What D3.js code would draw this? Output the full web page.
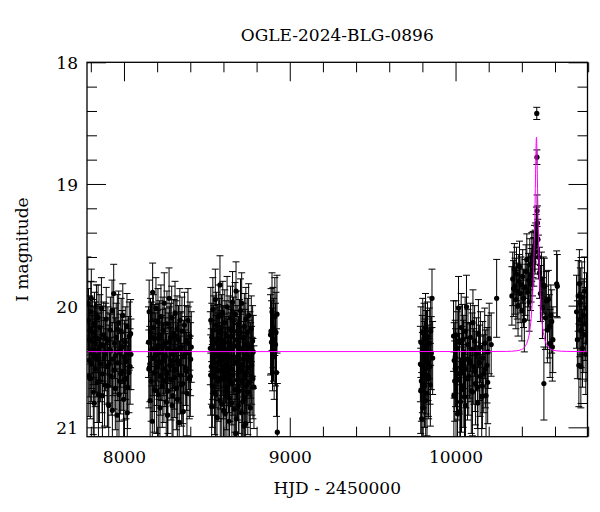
<!DOCTYPE html>
<html>
<head>
<meta charset="utf-8">
<script src="https://cdn.jsdelivr.net/npm/d3@7"></script>
<style>
body{margin:0;background:#fff;}
#chart text{font-family:'DejaVu Serif',serif;fill:#000;}
</style>
</head>
<body>
<div id="chart"></div>
<script>
// [HJD-2450000, I mag, error] per observing season
var season1 = [
    [7782,19.98,0.38],[7786,20.12,0.26],[7790,20.45,0.30],[7793,20.28,0.28],[7797,20.60,0.33],[7800,20.05,0.25],
    [7803,19.94,0.24],[7807,20.38,0.30],[7811,20.22,0.27],[7815,20.71,0.35],[7818,20.30,0.29],[7822,20.15,0.26],
    [7826,20.52,0.31],[7830,20.41,0.30],[7834,20.08,0.25],[7838,20.63,0.33],[7842,20.27,0.28],[7846,20.73,0.36],
    [7850,20.35,0.29],[7855,20.18,0.27],[7859,20.48,0.31],[7864,20.02,0.25],[7868,20.56,0.32],[7873,20.33,0.29],
    [7878,20.24,0.27],[7883,20.65,0.34],[7888,20.40,0.30],[7893,20.11,0.26],[7898,20.50,0.31],[7903,20.29,0.28],
    [7908,20.82,0.37],[7913,20.36,0.30],[7918,20.20,0.27],[7923,20.58,0.32],[7928,20.04,0.25],[7933,20.44,0.30],
    [7938,19.90,0.24],[7943,20.31,0.29],[7948,20.68,0.34],[7953,20.26,0.28],[7958,20.90,0.38],[7963,20.47,0.31],
    [7968,20.14,0.26],[7973,20.62,0.33],[7978,20.37,0.30],[7983,20.21,0.27],[7988,20.54,0.32],[7993,20.08,0.26],
    [7998,20.77,0.36],[8003,20.42,0.30],[8008,20.30,0.29],[8013,20.60,0.33],[8018,20.17,0.27],[8022,20.67,0.34],
    [8027,20.39,0.30],[8032,20.25,0.28],[8037,20.50,0.31],[8042,20.40,0.29],
    [7788,20.58,0.33],[7795,20.20,0.28],[7805,20.48,0.31],[7813,20.35,0.30],[7820,20.80,0.37],[7828,20.26,0.29],
    [7836,20.44,0.31],[7844,20.10,0.27],[7852,20.62,0.34],[7861,20.32,0.30],[7870,20.74,0.36],[7880,20.43,0.31],
    [7890,20.27,0.29],[7900,20.66,0.34],[7910,20.48,0.32],[7920,20.37,0.30],[7930,20.86,0.38],[7940,20.53,0.32],
    [7950,20.41,0.31],[7960,20.19,0.28],[7970,20.73,0.36],[7980,20.56,0.33],[7990,20.34,0.30],[8000,20.61,0.33],
    [8010,20.46,0.31],[8020,20.88,0.38],[8030,20.55,0.33],[8040,20.23,0.28]
];
var season2 = [
    [8148,20.30,0.29],[8152,20.05,0.26],[8156,20.48,0.31],[8160,20.22,0.28],[8164,20.62,0.33],[8168,20.36,0.30],
    [8171,20.95,0.38],[8173,19.89,0.24],[8177,20.18,0.27],[8181,20.55,0.32],[8185,20.27,0.28],[8189,20.41,0.30],
    [8193,20.02,0.25],[8197,20.70,0.35],[8201,20.33,0.29],[8205,20.13,0.27],[8207,20.73,0.35],[8211,20.46,0.31],
    [8215,20.24,0.28],[8219,20.58,0.32],[8223,20.09,0.26],[8227,20.38,0.30],[8231,20.66,0.34],[8235,20.20,0.27],
    [8239,20.44,0.30],[8243,19.98,0.25],[8247,20.52,0.31],[8251,20.31,0.29],[8255,20.79,0.36],[8259,20.15,0.27],
    [8263,20.90,0.37],[8267,20.35,0.29],[8272,19.94,0.25],[8276,20.49,0.31],[8280,20.26,0.28],[8284,20.61,0.33],
    [8288,20.10,0.26],[8292,20.40,0.30],[8296,20.74,0.35],[8300,20.23,0.28],[8304,20.53,0.32],[8308,20.06,0.26],
    [8312,20.37,0.30],[8316,20.68,0.34],[8320,20.19,0.27],[8324,20.45,0.31],[8329,20.28,0.28],[8333,20.96,0.38],
    [8337,20.12,0.26],[8341,20.57,0.32],[8345,20.34,0.29],[8350,20.21,0.28],[8355,20.64,0.33],[8360,20.42,0.30],
    [8365,20.16,0.27],[8370,20.51,0.31],[8375,20.29,0.29],[8380,20.72,0.35],[8386,20.12,0.26],[8390,20.39,0.30],
    [8394,20.60,0.33],[8398,20.25,0.28],[8402,20.44,0.30],[8406,20.34,0.29],
    [8150,20.52,0.32],[8158,20.78,0.36],[8166,20.26,0.29],[8175,20.43,0.31],[8183,20.69,0.35],[8191,20.36,0.30],
    [8199,20.50,0.32],[8209,20.27,0.29],[8217,20.84,0.37],[8225,20.47,0.31],[8233,20.33,0.30],[8241,20.62,0.34],
    [8249,20.41,0.31],[8257,20.56,0.33],[8265,20.70,0.35],[8274,20.30,0.29],[8282,20.45,0.31],[8290,20.82,0.37],
    [8298,20.38,0.30],[8306,20.59,0.33],[8314,20.25,0.29],[8322,20.77,0.36],[8331,20.48,0.32],[8339,20.36,0.30],
    [8348,20.65,0.34],[8358,20.87,0.38],[8368,20.40,0.31],[8378,20.54,0.32],[8388,20.31,0.30],[8400,20.58,0.33]
];
var season3 = [
    [8521,20.35,0.30],[8524,20.12,0.27],[8527,20.50,0.31],[8530,20.26,0.28],[8533,20.66,0.34],[8536,20.03,0.26],
    [8539,20.42,0.30],[8542,20.20,0.28],[8545,20.58,0.32],[8548,20.31,0.29],[8551,19.95,0.25],[8553,20.73,0.35],
    [8556,20.38,0.30],[8559,20.16,0.27],[8562,20.47,0.31],[8565,20.27,0.28],[8568,20.62,0.33],[8571,20.09,0.26],
    [8574,20.40,0.30],[8577,20.22,0.28],[8579,19.83,0.24],[8582,20.53,0.32],[8585,20.33,0.29],[8588,20.18,0.27],
    [8590,20.81,0.36],[8593,20.44,0.30],[8596,20.06,0.26],[8599,20.60,0.33],[8602,20.29,0.29],[8605,20.37,0.30],
    [8608,20.14,0.27],[8610,20.89,0.37],[8613,20.49,0.31],[8616,20.24,0.28],[8619,20.68,0.34],[8622,20.01,0.25],
    [8625,20.41,0.30],[8628,20.30,0.29],[8631,20.56,0.32],[8634,20.19,0.27],[8637,20.76,0.35],[8640,20.36,0.30],
    [8643,20.10,0.26],[8646,20.52,0.31],[8649,20.25,0.28],[8652,20.64,0.34],[8655,19.97,0.25],[8658,20.43,0.30],
    [8661,20.21,0.28],[8664,20.85,0.37],[8667,20.33,0.29],[8670,20.07,0.26],[8674,21.05,0.40],[8676,19.88,0.24],
    [8679,20.46,0.31],[8682,20.28,0.28],[8685,20.61,0.33],[8688,20.15,0.27],[8691,20.39,0.30],[8694,20.70,0.35],
    [8697,20.23,0.28],[8700,20.54,0.32],[8703,20.04,0.26],[8706,20.35,0.30],[8710,19.98,0.25],[8713,20.48,0.31],
    [8716,20.79,0.36],[8719,20.26,0.28],[8723,20.99,0.39],[8726,20.17,0.27],[8729,20.57,0.32],[8732,20.32,0.29],
    [8735,20.11,0.26],[8738,20.66,0.34],[8741,20.40,0.30],[8744,20.22,0.28],[8748,20.51,0.31],[8752,20.08,0.26],
    [8756,20.63,0.33],[8760,20.34,0.29],[8764,20.45,0.31],[8768,20.19,0.27],[8772,20.58,0.32],[8776,20.29,0.29],
    [8780,20.38,0.30],[8784,20.67,0.34],
    [8523,20.57,0.33],[8529,20.83,0.37],[8535,20.46,0.31],[8541,20.30,0.30],[8547,20.71,0.35],[8555,20.52,0.32],
    [8561,20.92,0.38],[8567,20.36,0.30],[8573,20.60,0.33],[8581,20.78,0.36],[8587,20.45,0.31],[8595,20.31,0.30],
    [8601,20.86,0.37],[8607,20.55,0.33],[8615,20.40,0.31],[8621,20.74,0.36],[8627,20.50,0.32],[8633,20.95,0.39],
    [8639,20.61,0.34],[8645,20.33,0.30],[8651,20.80,0.37],[8657,20.57,0.33],[8663,20.42,0.31],[8669,20.69,0.35],
    [8678,20.93,0.39],[8684,20.47,0.32],[8690,20.82,0.37],[8696,20.53,0.32],[8702,20.37,0.30],[8708,20.88,0.38],
    [8715,20.62,0.34],[8721,20.44,0.31],[8728,20.76,0.36],[8734,20.97,0.39],[8740,20.55,0.33],[8747,20.71,0.35],
    [8754,20.43,0.31],[8762,20.84,0.37],[8770,20.49,0.32],[8778,20.60,0.33]
];
var season4 = [
    [8884,20.24,0.33],[8887,20.21,0.35],[8890,20.30,0.34],[8893,20.05,0.32],[8896,20.36,0.34],[8899,20.18,0.33],
    [8902,20.28,0.34],[8906,20.42,0.35],[8910,20.09,0.32],[8914,20.32,0.34],[8917,20.22,0.33],[8920,20.55,0.36],
    [8923,20.07,0.32],[8925,21.04,0.40]
];
var season5 = [
    [9788,20.48,0.31],[9791,20.30,0.29],[9794,20.62,0.33],[9796,20.93,0.38],[9799,20.38,0.30],[9802,20.22,0.28],
    [9804,20.84,0.37],[9807,20.52,0.32],[9810,20.27,0.29],[9813,20.66,0.34],[9816,20.41,0.30],[9819,20.18,0.28],
    [9822,20.57,0.32],[9825,20.34,0.30],[9828,20.72,0.35],[9831,20.25,0.28],[9834,20.47,0.31],[9838,20.60,0.33],
    [9842,20.31,0.29],[9846,20.50,0.31],[9850,20.21,0.28],[9854,20.39,0.30],[9858,19.94,0.24],[9862,20.43,0.30],
    [9790,20.70,0.35],[9800,20.55,0.33],[9812,20.44,0.31],[9820,20.78,0.36],[9836,20.58,0.33],[9848,20.65,0.34]
];
var season6 = [
    [9988,20.25,0.29],[9992,20.45,0.31],[9995,20.62,0.33],[9998,20.42,0.30],[10002,20.24,0.28],[10006,20.55,0.32],
    [10010,20.35,0.30],[10014,20.61,0.33],[10018,20.02,0.26],[10022,20.30,0.29],[10026,20.87,0.37],[10030,20.79,0.36],
    [10034,20.18,0.28],[10038,20.48,0.31],[10042,20.28,0.29],[10046,20.66,0.34],[10050,20.38,0.30],[10054,20.75,0.35],
    [10058,20.21,0.28],[10062,20.52,0.32],[10066,20.01,0.26],[10070,20.44,0.30],[10075,20.32,0.29],[10080,20.58,0.32],
    [10085,20.45,0.31],[10090,20.26,0.28],[10095,20.70,0.35],[10100,20.36,0.30],[10105,20.14,0.27],[10110,20.50,0.31],
    [10115,20.29,0.29],[10120,20.64,0.34],[10126,20.40,0.30],[10132,20.67,0.34],[10138,20.23,0.28],[10144,20.47,0.31],
    [10150,20.34,0.29],[10158,20.75,0.35],[10164,20.43,0.30],[10170,20.56,0.32],[10176,20.31,0.29],[10184,20.74,0.35],
    [10190,20.49,0.31],[10196,20.38,0.30],[10203,20.27,0.29],[10215,20.32,0.26],[10248,19.94,0.32],
    [9990,20.74,0.36],[10000,20.51,0.32],[10012,20.89,0.38],[10024,20.56,0.33],[10036,20.69,0.35],[10048,20.43,0.31],
    [10060,20.82,0.37],[10072,20.60,0.34],[10088,20.47,0.32],[10102,20.71,0.36],[10118,20.54,0.33],[10135,20.80,0.37],
    [10148,20.58,0.33],[10162,20.66,0.35],[10180,20.52,0.32],[10194,20.63,0.34]
];
var season7 = [
    [10340,19.92,0.24],[10345,19.78,0.22],[10350,19.86,0.23],[10355,19.70,0.21],[10359,19.84,0.23],[10364,19.95,0.24],
    [10368,19.74,0.22],[10372,19.88,0.23],[10377,20.00,0.25],[10381,19.80,0.22],[10386,19.68,0.21],[10390,19.90,0.24],
    [10395,19.83,0.23],[10400,20.04,0.25],[10405,19.76,0.22],[10410,19.94,0.24],[10415,20.12,0.26],[10420,19.85,0.23],
    [10425,19.72,0.22],[10430,19.62,0.21],[10435,19.89,0.23],[10440,19.79,0.22],[10444,19.97,0.24],[10448,19.66,0.21],
    [10452,19.82,0.22],[10456,19.75,0.22],[10460,19.60,0.20],[10464,19.71,0.21],[10468,19.58,0.19],[10472,19.64,0.20],
    [10476,19.52,0.18],[10480,19.56,0.18],[10483,19.49,0.17],[10486,19.40,0.15],[10488,19.33,0.14],[10490,18.42,0.05],
    [10491,18.78,0.06],[10492,19.22,0.13],[10494,19.32,0.14],[10496,19.45,0.16],[10500,19.60,0.18],[10506,19.73,0.21],
    [10512,19.90,0.23],[10518,19.78,0.22],[10524,20.02,0.25],[10530,19.83,0.23],[10533,20.64,0.30],[10536,19.84,0.23],
    [10542,20.10,0.26],[10548,19.96,0.24],[10554,20.20,0.27],[10560,19.95,0.24],[10566,20.17,0.26],[10570,20.31,0.28],
    [10575,20.08,0.25],[10580,20.13,0.26],[10584,20.34,0.28],[10587,20.28,0.27],[10610,19.82,0.27],[10614,19.84,0.26]
];
var season8 = [
    [10730,20.05,0.30],[10735,20.28,0.32],[10740,19.92,0.29],[10744,20.49,0.34],[10747,19.82,0.28],[10750,20.12,0.30],
    [10753,19.98,0.29],[10756,20.50,0.34],[10759,20.20,0.31],[10762,19.93,0.29],[10766,20.35,0.32],[10770,20.08,0.30],
    [10774,20.24,0.31],[10778,19.88,0.28],[10782,20.15,0.30],[10786,20.40,0.33],[10790,20.02,0.29],[10794,20.30,0.32]
];

// model light curve (magenta)
var modelT = [7777, 10200, 10308, 10368, 10398, 10422, 10437, 10449, 10458, 10464, 10470, 10473, 10476, 10479, 10482,
    10485, 10488, 10491, 10494, 10497, 10500, 10503, 10506, 10512, 10518, 10527, 10539, 10554, 10578, 10608, 10668, 10796];
var modelMag = [20.378, 20.377, 20.376, 20.371, 20.360, 20.330, 20.280, 20.194, 20.070, 19.935, 19.735, 19.597, 19.427,
    19.220, 18.975, 18.732, 18.615, 18.732, 18.975, 19.220, 19.427, 19.597, 19.735, 19.935, 20.070, 20.194, 20.280,
    20.330, 20.360, 20.371, 20.376, 20.378];

var xDomain = [7777, 10796], yDomain = [18, 21.077];
var xMajor = [8000, 9000, 10000], yMajor = [18, 19, 20, 21];
var title = 'OGLE-2024-BLG-0896', xTitle = 'HJD - 2450000', yTitle = 'I magnitude';

(function(){ 'use strict';

    var width = 600,
        height = 512,
        plot = {left: 87, right: 587.5, top: 62.3, bottom: 436.7};

    var x = d3.scaleLinear().domain(xDomain).range([plot.left, plot.right]),
        y = d3.scaleLinear().domain(yDomain).range([plot.top, plot.bottom]);

    var xMinor = d3.range(7800, 10801, 200).filter(function(v){ return v % 1000; }),
        yMinor = d3.range(18.2, 21.05, 0.2).filter(function(v){ return Math.abs(v - Math.round(v)) > 0.01; });

    var svg = d3.select('#chart').append('svg')
        .attr('width', width).attr('height', height)
        .attr('viewBox', '0 0 '+width+' '+height);

    svg.append('clipPath').attr('id', 'clip')
        .append('rect')
            .attr('x', plot.left).attr('y', plot.top)
            .attr('width', plot.right - plot.left).attr('height', plot.bottom - plot.top);

    var data = d3.merge([season1, season2, season3, season4, season5, season6, season7, season8]);
    var workspace = svg.append('g').attr('clip-path', 'url(#clip)');

    // error bars + caps
    var cap = 3.5;
    var bars = workspace.append('g').attr('stroke', '#000').attr('stroke-width', 1).attr('fill', 'none');
    bars.selectAll('path').data(data).enter().append('path')
        .attr('d', function(d){
            var px = x(d[0]), y1 = y(d[1] - d[2]), y2 = y(d[1] + d[2]);
            return 'M'+px+','+y1+'V'+y2+
                'M'+(px-cap)+','+y1+'H'+(px+cap)+
                'M'+(px-cap)+','+y2+'H'+(px+cap);
        });

    workspace.append('g').selectAll('circle').data(data).enter().append('circle')
        .attr('cx', function(d){ return x(d[0]); })
        .attr('cy', function(d){ return y(d[1]); })
        .attr('r', 2.6)
        .attr('fill', '#000');

    var line = d3.line()
        .x(function(d, i){ return x(modelT[i]); })
        .y(function(d){ return y(d); })
        .curve(d3.curveMonotoneX);
    workspace.append('path').datum(modelMag)
        .attr('d', line)
        .attr('fill', 'none')
        .attr('stroke', '#ff00ff')
        .attr('stroke-width', 1);

    // axes: ticks inward on all four sides
    function styleAxis(g){
        g.select('.domain').remove();
        g.attr('font-family', "'DejaVu Serif', serif").attr('font-size', 17);
        g.selectAll('line').attr('stroke', '#000').attr('stroke-width', 1);
    }
    [[d3.axisBottom, plot.bottom, true], [d3.axisTop, plot.top, false]].forEach(function(a){
        svg.append('g').attr('transform', 'translate(0,'+a[1]+')')
            .call(a[0](x).tickValues(xMinor).tickSize(-10).tickFormat(''))
            .call(styleAxis);
        svg.append('g').attr('transform', 'translate(0,'+a[1]+')')
            .call(a[0](x).tickValues(xMajor).tickSize(-19).tickPadding(14)
                .tickFormat(a[2] ? d3.format('d') : ''))
            .call(styleAxis);
    });
    [[d3.axisLeft, plot.left, true], [d3.axisRight, plot.right, false]].forEach(function(a){
        svg.append('g').attr('transform', 'translate('+a[1]+',0)')
            .call(a[0](y).tickValues(yMinor).tickSize(-10).tickFormat(''))
            .call(styleAxis);
        svg.append('g').attr('transform', 'translate('+a[1]+',0)')
            .call(a[0](y).tickValues(yMajor).tickSize(-19).tickPadding(9)
                .tickFormat(a[2] ? d3.format('d') : ''))
            .call(styleAxis)
            .selectAll('text').attr('dy', '0.38em');
    });

    svg.append('rect')
        .attr('x', plot.left).attr('y', plot.top)
        .attr('width', plot.right - plot.left).attr('height', plot.bottom - plot.top)
        .attr('fill', 'none').attr('stroke', '#000').attr('stroke-width', 1.3);

    var cx = (plot.left + plot.right)/2;
    svg.append('text').attr('x', cx).attr('y', 41)
        .attr('text-anchor', 'middle').attr('font-size', 17).text(title);
    svg.append('text').attr('x', cx).attr('y', 494)
        .attr('text-anchor', 'middle').attr('font-size', 17).text(xTitle);
    svg.append('text').attr('transform', 'translate(28,'+((plot.top + plot.bottom)/2)+')rotate(-90)')
        .attr('text-anchor', 'middle').attr('font-size', 17).text(yTitle);

})();
</script>
</body>
</html>
